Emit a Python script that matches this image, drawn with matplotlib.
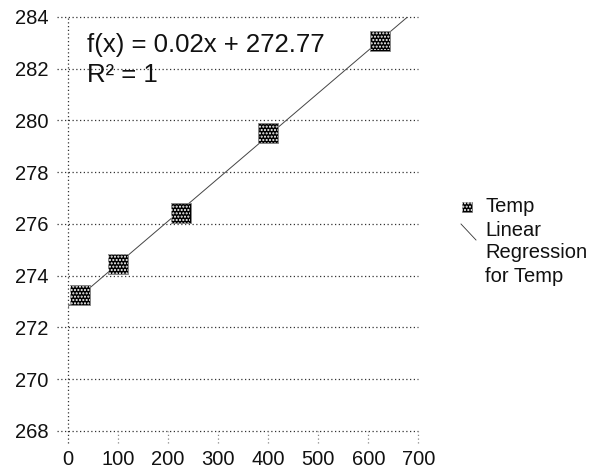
import numpy as np
import matplotlib
matplotlib.use("Agg")
import matplotlib.pyplot as plt
from matplotlib.transforms import blended_transform_factory

# data
x_vals = [24, 100, 225, 400, 624]
temp = [273.25, 274.45, 276.42, 279.5, 283.08]
y_ticks = [268, 270, 272, 274, 276, 278, 280, 282, 284]
x_ticks = [0, 100, 200, 300, 400, 500, 600, 700]
eq_text = "f(x) = 0.02x + 272.77"
r2_text = "R² = 1"

plt.rcParams['font.family'] = ['Liberation Sans', 'DejaVu Sans']
plt.rcParams['hatch.color'] = 'white'
plt.rcParams['hatch.linewidth'] = 1.0

fig = plt.figure(figsize=(6.05, 4.71), dpi=100)
ax = fig.add_axes([0.1124, 0.085, 0.579, 0.879])
ax.set_xlim(0, 700)
ax.set_ylim(268, 284)

# grid lines (dotted) incl. outward tick stubs
grid_kw = dict(color='#333333', linestyle=(0, (1, 2)), linewidth=0.9)
ty = blended_transform_factory(ax.transAxes, ax.transData)
for yv in y_ticks:
    ax.plot([-0.03, 1.0], [yv, yv], transform=ty, clip_on=False, **grid_kw)
tx = blended_transform_factory(ax.transData, ax.transAxes)
ax.plot([0, 0], [-0.03, 1.0], transform=tx, clip_on=False, **grid_kw)
for xv in x_ticks[1:]:
    ax.plot([xv, xv], [-0.03, 0.0], transform=tx, clip_on=False,
            color='#888888', linestyle=(0, (1, 2)), linewidth=0.9)

for s in ax.spines.values():
    s.set_visible(False)
ax.set_xticks(x_ticks)
ax.set_yticks(y_ticks)
ax.tick_params(length=0, labelsize=14.5, colors='#111111')
ax.tick_params(axis='x', pad=14)
ax.tick_params(axis='y', pad=14)

# regression line
slope, icpt = np.polyfit(x_vals, temp, 1)
xx = np.array([0, 700])
ax.plot(xx, slope * xx + icpt, color='#444444', linewidth=0.7, zorder=2)

# markers: black squares with white checker-like hatch
ax.scatter(x_vals, temp, marker='s', s=190, facecolor='black',
           edgecolor='#888888', linewidths=0.6, zorder=3)
ax.scatter(x_vals, temp, marker='s', s=190, facecolor='none',
           edgecolor='white', linewidths=0, hatch='.....', zorder=4)

# overlay in pixel coords for text + legend
lax = fig.add_axes([0, 0, 1, 1], facecolor='none')
lax.set_xlim(0, 605)
lax.set_ylim(471, 0)
lax.axis('off')

lax.text(87, 52, eq_text, fontsize=18.5, color='#111111', va='baseline')
lax.text(87, 82, r2_text, fontsize=18.5, color='#111111', va='baseline')

lax.scatter([467], [207], marker='s', s=50, facecolor='black', edgecolor='#777777', linewidths=0.5)
lax.scatter([467], [207], marker='s', s=50, facecolor='none', edgecolor='white', linewidths=0, hatch='.....')
lax.plot([461, 476], [224, 240], color='#333333', linewidth=0.6)
leg_kw = dict(fontsize=14.5, color='#111111', va='center', ha='left')
lax.text(485, 207, "Temp", **leg_kw)
lax.text(485, 230, "Linear", **leg_kw)
lax.text(485, 253, "Regression", **leg_kw)
lax.text(485, 276, "for Temp", **leg_kw)

fig.savefig("out.png", dpi=100)
